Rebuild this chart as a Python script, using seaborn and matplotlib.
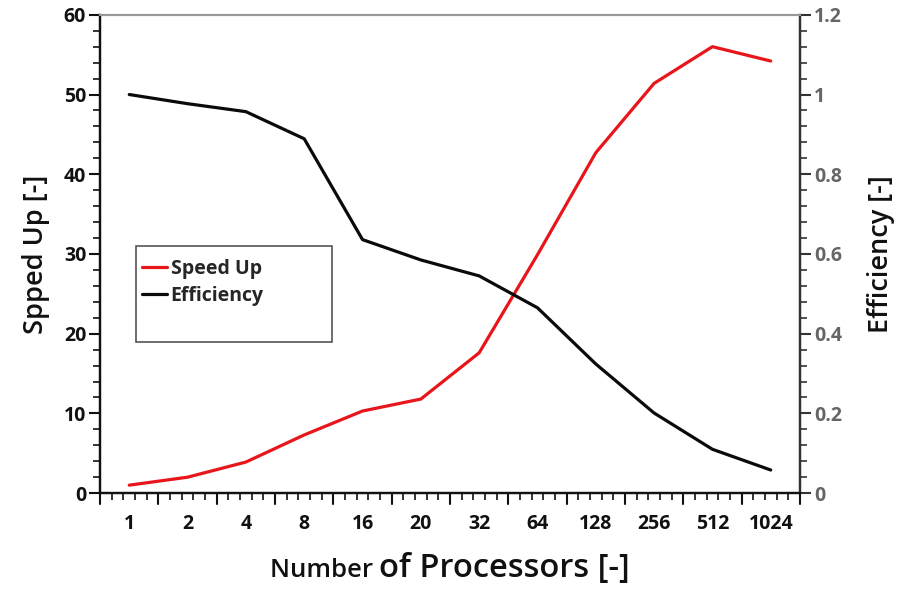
import numpy as np
import pandas as pd
import matplotlib.pyplot as plt
import seaborn as sns
from matplotlib.patches import Rectangle
from matplotlib.ticker import MultipleLocator, FixedLocator

processors = ["1", "2", "4", "8", "16", "20", "32", "64", "128", "256", "512", "1024"]
speed_up = [1.0, 2.0, 3.9, 7.3, 10.3, 11.8, 17.6, 29.9, 42.7, 51.4, 56.0, 54.2]
efficiency = [1.0, 0.977, 0.957, 0.889, 0.636, 0.585, 0.545, 0.465, 0.324, 0.201, 0.11, 0.058]

sns.set_theme(style="white")
plt.rcParams['font.family'] = ['Open Sans', 'DejaVu Sans']

df = pd.DataFrame({"pos": np.arange(len(processors)),
                   "speed": speed_up, "eff": efficiency})

fig, ax = plt.subplots(figsize=(9.1, 5.92), dpi=100)
fig.subplots_adjust(left=0.110, right=0.879, top=0.975, bottom=0.167)
ax2 = ax.twinx()

sns.lineplot(data=df, x="pos", y="speed", color="#e8151b", lw=2.3,
             ax=ax, label="Speed Up", legend=False)
sns.lineplot(data=df, x="pos", y="eff", color="#0a0a0a", lw=2.3,
             ax=ax2, label="Efficiency", legend=False)

n = len(processors)
ax.set_xlim(-0.5, n - 0.5)
ax.set_ylim(0, 60)
ax2.set_ylim(0, 1.2)

# category labels in the middle, ticks on the boundaries
ax.set_xticks(np.arange(n))
ax.set_xticklabels(processors, fontsize=14, fontweight="bold", color="#111111")
ax.tick_params(axis="x", length=0, pad=15)
bounds = np.arange(n + 1) - 0.5
ax.xaxis.set_minor_locator(FixedLocator(np.arange(-0.5, n - 0.5 + 0.01, 0.2)))
for b in bounds:
    ax.plot([b, b], [0, -0.022], transform=ax.get_xaxis_transform(),
            color="#111111", lw=1.5, clip_on=False)
ax.tick_params(axis="x", which="minor", length=5, width=1.2, color="#111111",
               direction="out", bottom=True)

ax.yaxis.set_major_locator(MultipleLocator(10))
ax.yaxis.set_minor_locator(MultipleLocator(2))
ax.tick_params(axis="y", which="major", length=8, width=1.5, color="#111111",
               direction="out", left=True, labelsize=14, pad=2)
ax.tick_params(axis="y", which="minor", length=5, width=1.2, color="#111111",
               direction="out", left=True)
for lab in ax.get_yticklabels():
    lab.set_fontweight("bold")
    lab.set_color("#111111")

ax2.set_yticks(np.arange(0, 1.21, 0.2))
ax2.set_yticklabels(["0", "0.2", "0.4", "0.6", "0.8", "1", "1.2"])
ax2.yaxis.set_minor_locator(MultipleLocator(0.04))
ax2.tick_params(axis="y", which="major", length=8, width=1.5, color="#333333",
                direction="out", right=True, labelsize=14, labelcolor="#666666", pad=2)
ax2.tick_params(axis="y", which="minor", length=5, width=1.2, color="#333333",
                direction="out", right=True)
for lab in ax2.get_yticklabels():
    lab.set_fontweight("bold")

for a in (ax, ax2):
    for s in ("left", "bottom", "right"):
        a.spines[s].set_color("#111111")
        a.spines[s].set_linewidth(1.6)
    a.spines["top"].set_color("#999999")
    a.spines["top"].set_linewidth(1.5)
ax2.spines["right"].set_color("#333333")

ax.set_xlabel("")
ax.set_ylabel("Spped Up [-]", fontsize=19.5, fontweight="semibold", color="#111111", labelpad=10)
ax2.set_ylabel("Efficiency [-]", fontsize=19.5, fontweight="semibold", color="#111111", labelpad=18)

fig.text(0.417, 0.025, "Number ", fontsize=18.5, fontweight="semibold",
         ha="right", va="baseline", color="#111111")
fig.text(0.417, 0.025, "of Processors [-]", fontsize=23.5, fontweight="semibold",
         ha="left", va="baseline", color="#111111")

# legend box
ax.add_patch(Rectangle((0.051, 0.316), 0.28, 0.2, transform=ax.transAxes,
                       fill=True, facecolor="white", edgecolor="#555555", lw=1.2, zorder=5))
h1, l1 = ax.get_legend_handles_labels()
h2, l2 = ax2.get_legend_handles_labels()
leg = ax.legend(h1 + h2, l1 + l2, loc="upper left", bbox_to_anchor=(0.037, 0.522),
                frameon=False, handlelength=1.3, handletextpad=0.2, borderpad=0.3,
                labelspacing=0.35, prop={"weight": "bold", "size": 14})
leg.set_zorder(6)

fig.savefig("out.png", dpi=100)
